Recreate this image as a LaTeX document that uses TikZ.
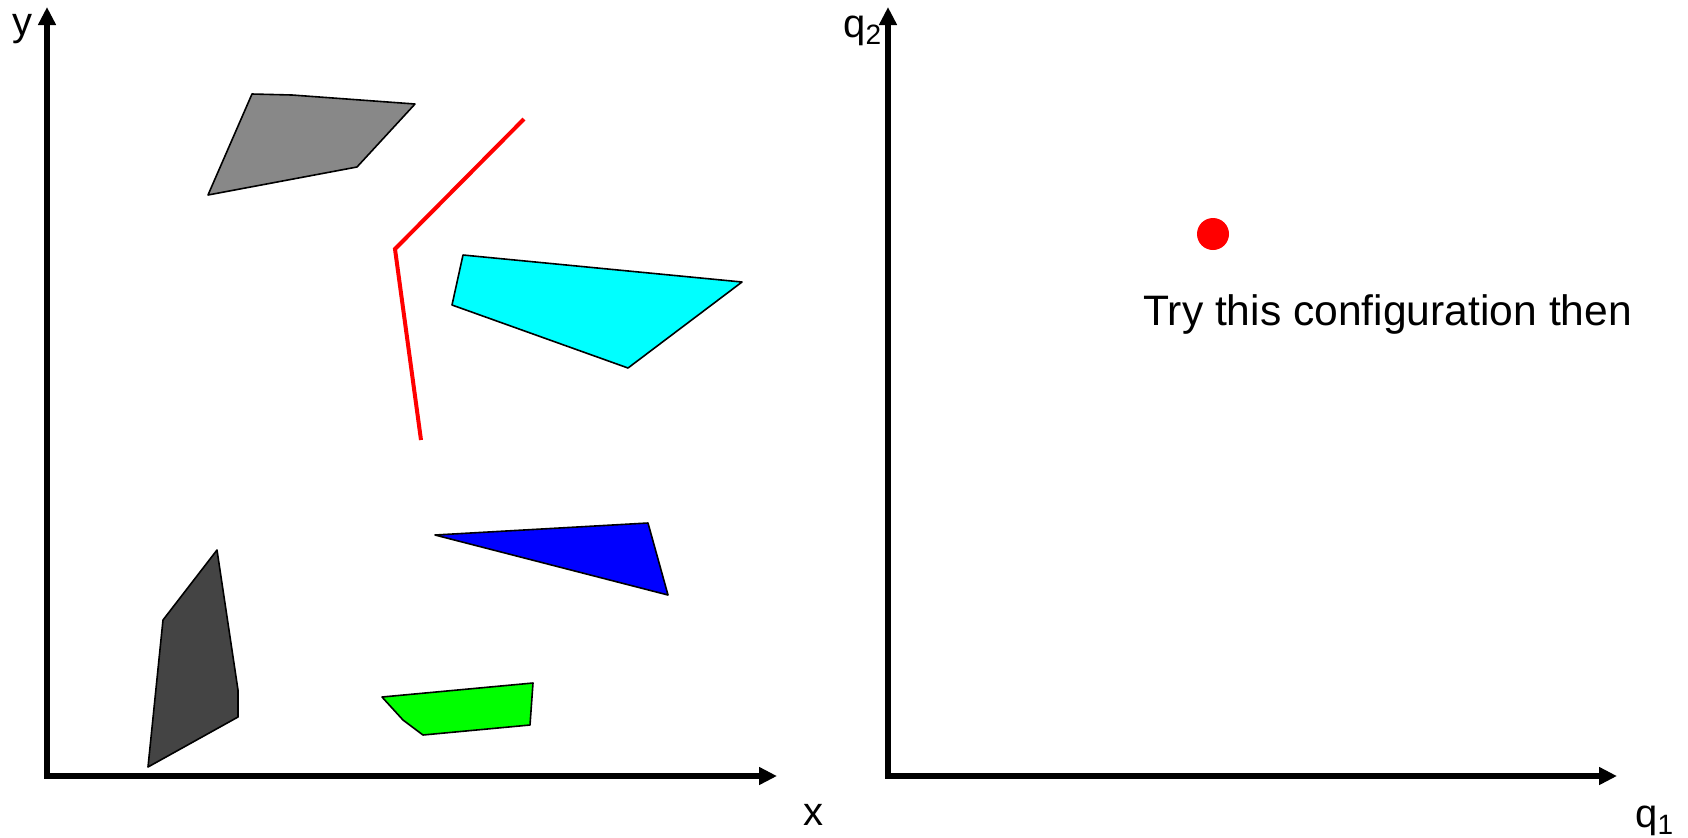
\documentclass[tikz,border=0pt]{standalone}
\usepackage{fontspec}
\setmainfont{Liberation Sans}
\usetikzlibrary{arrows.meta}
\definecolor{lightobst}{RGB}{136,136,136}
\definecolor{darkobst}{RGB}{68,68,68}
\definecolor{cyanobst}{RGB}{0,255,255}
\definecolor{blueobst}{RGB}{0,0,255}
\definecolor{greenobst}{RGB}{0,255,0}
\newcommand{\qsub}[1]{\raisebox{-0.35ex}{\fontsize{14}{16}\selectfont #1}}
\begin{document}
\begin{tikzpicture}[x=0.5pt, y=-0.5pt, >={Triangle[width=8.5pt,length=9pt]},
    axis/.style={line width=2.8pt, <->},
    obstacle/.style={draw=black, line width=0.8pt, line join=round},
    axlabel/.style={font=\fontsize{20}{24}\selectfont, inner sep=0pt}]
    \useasboundingbox (0,0) rectangle (1688,837);

    % workspace
    \begin{scope}
        \coordinate (O) at (47,776);
        \coordinate (X) at (777,776);
        \coordinate (Y) at (47,7);
        \draw[axis] (Y) -- (O) -- (X);
        \node[axlabel, anchor=base] (xlab) at (813,825) {x};
        \node[axlabel, anchor=base] (ylab) at (22,35) {y};

        \draw[obstacle, fill=lightobst] (252,94) -- (292,95) -- (415,104) -- (357,167) -- (208,195) -- cycle;
        \draw[obstacle, fill=cyanobst] (463,255) -- (742,282) -- (628,368) -- (452,305) -- cycle;
        \draw[obstacle, fill=blueobst] (435,535) -- (648,523) -- (668,595) -- cycle;
        \draw[obstacle, fill=darkobst] (217,550) -- (238,690) -- (238,717) -- (148,767) -- (163,620) -- cycle;
        \draw[obstacle, fill=greenobst] (382,697) -- (533,683) -- (530,725) -- (423,735) -- (403,720) -- cycle;

        % robot arm
        \coordinate (tip) at (524,119);
        \coordinate (elbow) at (395,249);
        \coordinate (base) at (421,440);
        \draw[red, line width=2pt] (tip) -- (elbow) -- (base);
    \end{scope}

    % configuration space
    \begin{scope}
        \coordinate (Q) at (888,776);
        \coordinate (Q1) at (1617,776);
        \coordinate (Q2) at (888,7);
        \draw[axis] (Q2) -- (Q) -- (Q1);
        \node[axlabel, anchor=base west] (q1lab) at (1635,827) {q\qsub{1}};
        \node[axlabel, anchor=base west] (q2lab) at (843,37) {q\qsub{2}};

        \node[circle, fill=red, minimum size=16pt, inner sep=0pt] (config) at (1213,234) {};
        \node[axlabel, font=\fontsize{21.3}{25}\selectfont, anchor=base west] (try) at (1143,325) {Try this configuration then};
    \end{scope}
\end{tikzpicture}
\end{document}
